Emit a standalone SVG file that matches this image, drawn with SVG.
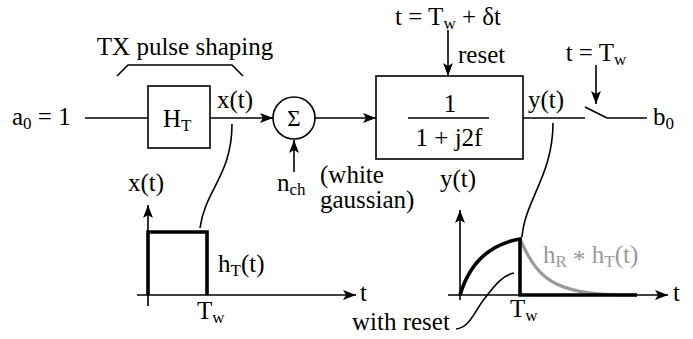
<svg xmlns="http://www.w3.org/2000/svg" width="693" height="339" viewBox="0 0 693 339">
<defs>
<marker id="arr" viewBox="0 0 13 10" refX="13" refY="5" markerWidth="13" markerHeight="10" markerUnits="userSpaceOnUse" orient="auto">
<path d="M0,0 L13,5 L0,10 L3,5 z" fill="#000"/>
</marker>
</defs>

<g id="connectors" fill="none" stroke="#000" stroke-width="1.6">
<line x1="85" y1="118" x2="148" y2="118"/>
<line x1="210" y1="118" x2="273" y2="118" marker-end="url(#arr)"/>
<line x1="315" y1="118" x2="376" y2="118" marker-end="url(#arr)"/>
<line x1="294" y1="172" x2="294" y2="140" marker-end="url(#arr)"/>
<line x1="448" y1="30" x2="448" y2="76" marker-end="url(#arr)"/>
<line x1="523" y1="118" x2="585" y2="118"/>
<line x1="585" y1="107" x2="607" y2="118"/>
<line x1="607" y1="118" x2="647" y2="118"/>
<line x1="596" y1="65" x2="596" y2="104" marker-end="url(#arr)"/>
<path d="M117,76 L128,65 L232,65 L243,76"/>
<path d="M232,124 C232,175 205,190 200,228"/>
<path d="M553,123 C553,175 525,200 522,237"/>
<path d="M456,329 C470,328 475,310 485,298 C495,285 503,275 514,273"/>
</g>

<g id="label-tx">
<text x="185" y="55" text-anchor="middle" font-family="Liberation Serif" font-size="25">TX pulse shaping</text>
</g>

<g id="input">
<text x="12" y="125" font-family="Liberation Serif" font-size="25">a<tspan font-size="17" dy="4">0</tspan><tspan dy="-4"> = 1</tspan></text>
</g>

<g id="HT">
<rect x="148" y="86" width="62" height="62" fill="#fff" stroke="#000" stroke-width="1.6"/>
<text x="163" y="127" font-family="Liberation Serif" font-size="25">H<tspan font-size="17" dy="4">T</tspan></text>
</g>

<g id="xt-label">
<text x="217" y="108" font-family="Liberation Serif" font-size="25">x(t)</text>
</g>

<g id="sum">
<circle cx="294" cy="118" r="21" fill="#fff" stroke="#000" stroke-width="1.6"/>
<text x="294" y="126" text-anchor="middle" font-family="Liberation Serif" font-size="23">Σ</text>
</g>

<g id="noise">
<text x="277" y="191" font-family="Liberation Serif" font-size="25">n<tspan font-size="17" dy="4">ch</tspan></text>
<text x="320" y="183" font-family="Liberation Serif" font-size="25">(white</text>
<text x="320" y="208" font-family="Liberation Serif" font-size="25">gaussian)</text>
</g>

<g id="filter">
<rect x="376" y="76" width="147" height="83" fill="#fff" stroke="#000" stroke-width="1.6"/>
<text x="450" y="112" text-anchor="middle" font-family="Liberation Serif" font-size="25">1</text>
<line x1="408" y1="118" x2="489" y2="118" stroke="#000" stroke-width="1.3"/>
<text x="449" y="146" text-anchor="middle" font-family="Liberation Serif" font-size="25">1 + j2f</text>
</g>

<g id="reset-label">
<text x="448" y="25" text-anchor="middle" font-family="Liberation Serif" font-size="25">t = T<tspan font-size="17" dy="4">w</tspan><tspan dy="-4"> + δt</tspan></text>
<text x="458" y="63" font-family="Liberation Serif" font-size="25">reset</text>
</g>

<g id="yt-label">
<text x="528" y="108" font-family="Liberation Serif" font-size="25">y(t)</text>
</g>

<g id="sampler">
<text x="596" y="61" text-anchor="middle" font-family="Liberation Serif" font-size="25">t = T<tspan font-size="17" dy="4">w</tspan></text>
<text x="653" y="125" font-family="Liberation Serif" font-size="25">b<tspan font-size="17" dy="4">0</tspan></text>
</g>

<g id="plot-x">
<line x1="148" y1="306" x2="148" y2="205" stroke="#000" stroke-width="1.6" marker-end="url(#arr)"/>
<line x1="137" y1="295" x2="356" y2="295" stroke="#000" stroke-width="1.6" marker-end="url(#arr)"/>
<polyline points="148,295 148,232 207,232 207,295" fill="none" stroke="#000" stroke-width="3.6"/>
<text x="128" y="191" font-family="Liberation Serif" font-size="25">x(t)</text>
<text x="360" y="301" font-family="Liberation Serif" font-size="25">t</text>
<text x="218" y="272" font-family="Liberation Serif" font-size="25">h<tspan font-size="17" dy="4">T</tspan><tspan dy="-4">(t)</tspan></text>
<text x="197" y="319" font-family="Liberation Serif" font-size="25">T<tspan font-size="17" dy="4">w</tspan></text>
</g>

<g id="plot-y">
<line x1="460" y1="300" x2="460" y2="210" stroke="#000" stroke-width="1.6" marker-end="url(#arr)"/>
<line x1="448" y1="295" x2="668" y2="295" stroke="#000" stroke-width="1.6" marker-end="url(#arr)"/>
<path d="M520,239 C540,285 560,295 637,295" fill="none" stroke="#999" stroke-width="3.2"/>
<path d="M460,295 C470,262 490,244 520,239 L520,295 L637,295" fill="none" stroke="#000" stroke-width="3.6"/>
<text x="440" y="187" font-family="Liberation Serif" font-size="25">y(t)</text>
<text x="673" y="301" font-family="Liberation Serif" font-size="25">t</text>
<text x="543" y="263" font-family="Liberation Serif" font-size="25" fill="#999">h<tspan font-size="17" dy="4">R</tspan><tspan dy="1"> * </tspan><tspan dy="-5">h</tspan><tspan font-size="17" dy="4">T</tspan><tspan dy="-4">(t)</tspan></text>
<text x="510" y="317" font-family="Liberation Serif" font-size="25">T<tspan font-size="17" dy="4">w</tspan></text>
<text x="352" y="330" font-family="Liberation Serif" font-size="25">with reset</text>
</g>
</svg>
